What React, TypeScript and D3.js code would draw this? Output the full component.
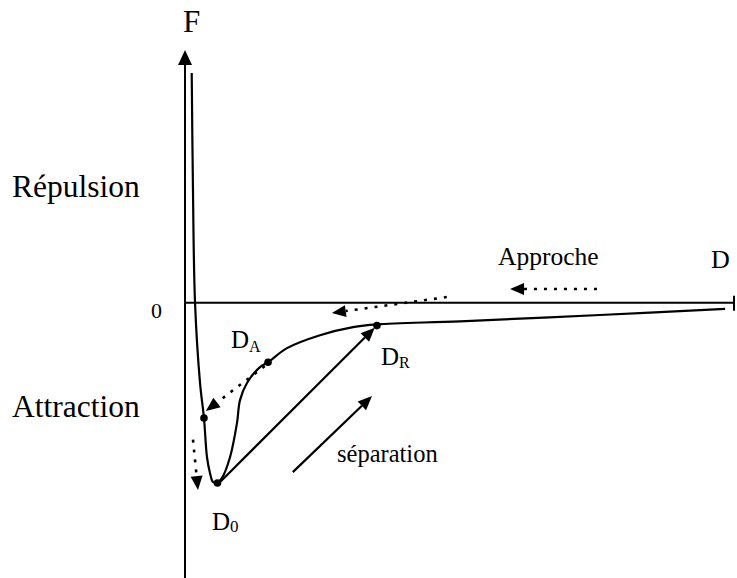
import React from "react";
import * as d3 from "d3";

// Potential curve F(D), in chart units (D: 0..100, F: -109..100)
const curveD = [1.22, 1.45, 1.82, 2.73, 3.45, 4.0, 4.55, 5.09, 5.82, 6.73, 8.18, 9.45, 10.0, 11.27, 13.64, 15.09, 18.55, 24.55, 30.55, 34.9, 50.0, 75.45, 98.2];
const curveF = [90.9, 44.6, 0.2, -31.8, -45.7, -61.2, -67.5, -71.0, -71.4, -69.4, -61.2, -47.7, -38.6, -31.8, -25.5, -23.6, -18.0, -12.9, -9.7, -8.6, -7.4, -4.9, -2.5];

// Marked points
const pointNames = ["D0", "DA", "DR", "W"];
const pointD = [5.9, 15.1, 34.9, 3.45];
const pointF = [-71.4, -23.6, -9.1, -45.7];

// Arrows
const arrowFromD = [19.6, 6.2, 14.5, 1.45, 47.6, 74.9];
const arrowFromF = [-67.1, -71.4, -25.1, -54.2, 2.2, 5.4];
const arrowToD = [34.0, 34.5, 3.8, 2.36, 26.7, 59.1];
const arrowToF = [-37.0, -9.9, -42.9, -74.2, -4.1, 5.4];
const arrowDotted = [false, false, true, true, true, true];

const W = 737;
const H = 578;

export default function App() {
  const x = d3.scaleLinear().domain([0, 100]).range([185, 735]);
  const y = d3.scaleLinear().domain([-109, 100]).range([578, 50]);

  const pts: [number, number][] = curveD.map((d, i) => [x(d), y(curveF[i])]);
  const line = d3.line().curve(d3.curveCatmullRom.alpha(0.5));
  const path = line(pts) || "";

  const arrows = arrowFromD.map((d, i) => {
    const x1 = x(d), y1 = y(arrowFromF[i]);
    const x2 = x(arrowToD[i]), y2 = y(arrowToF[i]);
    const ang = Math.atan2(y2 - y1, x2 - x1);
    const len = 14, hw = 6;
    const bx = x2 - len * Math.cos(ang), by = y2 - len * Math.sin(ang);
    const px = -Math.sin(ang) * hw, py = Math.cos(ang) * hw;
    const head = `M${x2},${y2}L${bx + px},${by + py}L${bx - px},${by - py}Z`;
    return { x1, y1, bx, by, head, dotted: arrowDotted[i] };
  });

  const serif = "'Liberation Serif', 'Times New Roman', serif";
  const y0 = y(0);

  return (
    <svg width={W} height={H} style={{ position: "absolute", left: 0, top: 0, background: "#fff" }}>
      <rect x={0} y={0} width={W} height={H} fill="#fff" />
      {/* vertical axis */}
      <line x1={x(0)} y1={578} x2={x(0)} y2={y(100) + 12} stroke="#000" strokeWidth={2} />
      <path d={`M${x(0)},${y(100)}L${x(0) - 7},${y(100) + 15}L${x(0) + 7},${y(100) + 15}Z`} fill="#000" />
      {/* horizontal axis */}
      <line x1={x(0)} y1={y0} x2={x(100)} y2={y0} stroke="#000" strokeWidth={2} />
      <line x1={x(100) - 1} y1={y0 - 7} x2={x(100) - 1} y2={y0 + 8} stroke="#000" strokeWidth={2} />

      {/* potential curve */}
      <path d={path} fill="none" stroke="#000" strokeWidth={2.2} />

      {/* arrows */}
      {arrows.map((a, i) => (
        <g key={i}>
          <line x1={a.x1} y1={a.y1} x2={a.bx} y2={a.by} stroke="#000"
            strokeWidth={a.dotted ? 2.6 : 2.2}
            strokeDasharray={a.dotted ? "3 7" : undefined} />
          <path d={a.head} fill="#000" />
        </g>
      ))}

      {/* points */}
      {pointNames.map((n, i) => (
        <circle key={n} cx={x(pointD[i])} cy={y(pointF[i])} r={3.8} fill="#000" />
      ))}

      {/* labels */}
      <g fontFamily={serif} fill="#000">
        <text x={183} y={32} fontSize={31}>F</text>
        <text x={711} y={268} fontSize={26}>D</text>
        <text x={498} y={265} fontSize={25.5}>Approche</text>
        <text x={12} y={197} fontSize={31.5}>Répulsion</text>
        <text x={12} y={417} fontSize={31.5}>Attraction</text>
        <text x={151} y={318} fontSize={22}>0</text>
        <text x={337} y={462} fontSize={24.5}>séparation</text>
        <text x={231} y={348} fontSize={25}>D<tspan fontSize={16} dy={4}>A</tspan></text>
        <text x={381} y={365} fontSize={25}>D<tspan fontSize={16} dy={3}>R</tspan></text>
        <text x={212} y={530} fontSize={25}>D<tspan fontSize={17} dy={2}>0</tspan></text>
      </g>
    </svg>
  );
}
